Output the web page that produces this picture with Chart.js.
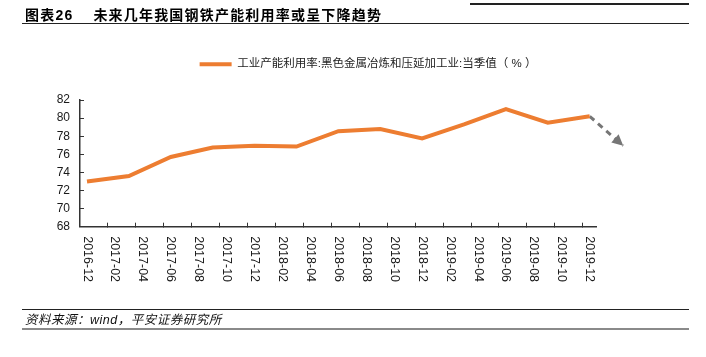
<!DOCTYPE html>
<html>
<head>
<meta charset="utf-8">
<script src="https://cdn.jsdelivr.net/npm/chart.js@4.4.0/dist/chart.umd.min.js"></script>
<style>
html,body{margin:0;padding:0;background:#fff;}
#wrap{position:relative;width:706px;height:357px;overflow:hidden;background:#fff;}
#c{position:absolute;left:0;top:0;}
.title{position:absolute;left:25px;top:7px;font-weight:bold;font-size:14px;line-height:16px;font-family:"Liberation Sans","Noto Sans CJK SC",sans-serif;letter-spacing:1.2px;white-space:nowrap;color:#000;}
.title span{margin-left:20px;}
.foot{position:absolute;left:25px;top:313px;font-style:italic;font-size:12.5px;line-height:14px;font-family:"Liberation Sans","Noto Sans CJK SC",sans-serif;letter-spacing:0.5px;white-space:nowrap;color:#111;}
.ln{position:absolute;}
</style>
</head>
<body>
<div id="wrap">
  <canvas id="c" width="706" height="357"></canvas>
  <div class="ln" style="left:470px;top:3px;width:219px;height:1.5px;background:#222;"></div>
  <div class="title">图表26<span>未来几年我国钢铁产能利用率或呈下降趋势</span></div>
  <div class="ln" style="left:22px;top:22.5px;width:667px;height:1.5px;background:#222;"></div>
  <div class="ln" style="left:22px;top:308.5px;width:667px;height:1.5px;background:#222;"></div>
  <div class="foot">资料来源：wind，平安证券研究所</div>
  <div class="ln" style="left:22px;top:327.5px;width:667px;height:2px;background:#8a8a8a;"></div>
</div>
<script>
// ---- data ----
const seriesName = "工业产能利用率:黑色金属冶炼和压延加工业:当季值（ % ）";
const quarterLabels = ["2016-12","2017-03","2017-06","2017-09","2017-12","2018-03","2018-06","2018-09","2018-12","2019-03","2019-06","2019-09","2019-12"];
const utilization = [73.0, 73.6, 75.7, 76.75, 76.95, 76.85, 78.55, 78.8, 77.75, 79.3, 81.0, 79.5, 80.2];
const tickLabels = ["2016-12","2017-02","2017-04","2017-06","2017-08","2017-10","2017-12","2018-02","2018-04","2018-06","2018-08","2018-10","2018-12","2019-02","2019-04","2019-06","2019-08","2019-10","2019-12"];
const yTicks = [68, 70, 72, 74, 76, 78, 80, 82];
// trend arrow (annotation): from last value, pointing down (second point = arrow tip)
const arrowMonths = [36, 38.4];
const arrowValues = [80.2, 76.95];

const FONT = '"Liberation Sans","Noto Sans CJK SC",sans-serif';
function monthIndex(label){
  const [y, m] = label.split('-').map(Number);
  return (y - 2016) * 12 + m - 12;
}
const lineData = quarterLabels.map((l, i) => ({x: monthIndex(l), y: utilization[i]}));
const arrowData = arrowMonths.map((m, i) => ({x: m, y: arrowValues[i]}));

const xLabelPlugin = {
  id: 'xLabels',
  afterDraw(chart){
    const ctx = chart.ctx, xs = chart.scales.x, area = chart.chartArea;
    ctx.save();
    ctx.font = '12.5px ' + FONT;
    ctx.fillStyle = '#1a1a1a';
    ctx.textAlign = 'left';
    ctx.textBaseline = 'middle';
    tickLabels.forEach(l => {
      const px = xs.getPixelForValue(monthIndex(l));
      ctx.save();
      ctx.translate(px, area.bottom + 9.5);
      ctx.rotate(Math.PI / 2);
      ctx.fillText(l, 0, 0);
      ctx.restore();
    });
    ctx.restore();
  }
};

const arrowHeadPlugin = {
  id: 'arrowHead',
  afterDatasetsDraw(chart){
    const ctx = chart.ctx, xs = chart.scales.x, ys = chart.scales.y;
    const x0 = xs.getPixelForValue(arrowMonths[0]), y0 = ys.getPixelForValue(arrowValues[0]);
    const x1 = xs.getPixelForValue(arrowMonths[1]), y1 = ys.getPixelForValue(arrowValues[1]);
    const a = Math.atan2(y1 - y0, x1 - x0);
    const len = 11, hw = 5.5;
    const bx = x1 - len * Math.cos(a), by = y1 - len * Math.sin(a);
    ctx.save();
    ctx.fillStyle = '#767676';
    ctx.beginPath();
    ctx.moveTo(x1, y1);
    ctx.lineTo(bx + hw * Math.sin(a), by - hw * Math.cos(a));
    ctx.lineTo(bx - hw * Math.sin(a), by + hw * Math.cos(a));
    ctx.closePath();
    ctx.fill();
    ctx.restore();
  }
};

new Chart(document.getElementById('c'), {
  type: 'line',
  data: {
    datasets: [
      {
        label: seriesName,
        data: lineData,
        borderColor: '#ED7D31',
        backgroundColor: '#ED7D31',
        borderWidth: 4,
        pointRadius: 0,
        tension: 0,
        borderJoinStyle: 'miter'
      },
      {
        label: 'trend',
        data: arrowData,
        borderColor: '#767676',
        backgroundColor: '#767676',
        borderWidth: 3,
        borderDash: [6, 5],
        pointRadius: 0,
        clip: false,
        tension: 0
      }
    ]
  },
  options: {
    responsive: false,
    devicePixelRatio: 1,
    animation: false,
    events: [],
    layout: {padding: {left: 30, right: 0, top: 48.5, bottom: 0}},
    plugins: {
      legend: {
        position: 'top',
        labels: {
          usePointStyle: true,
          pointStyle: 'line',
          pointStyleWidth: 32,
          padding: 10,
          color: '#222',
          font: {size: 11.5, family: FONT},
          filter: (item) => item.datasetIndex === 0
        }
      },
      tooltip: {enabled: false}
    },
    scales: {
      x: {
        type: 'linear',
        position: 'bottom',
        min: -0.5,
        max: 36.5,
        afterBuildTicks: (s) => {
          s.ticks = tickLabels.slice(1).map(l => ({value: monthIndex(l) - 0.5}));
        },
        afterFit: (s) => { s.height = 130.3; },
        ticks: {display: false},
        grid: {drawOnChartArea: false, drawTicks: true, tickLength: -4, color: '#333', lineWidth: 1},
        border: {display: true, color: '#333', width: 1.5}
      },
      xTop: {
        type: 'linear',
        position: 'top',
        axis: 'x',
        display: true,
        afterFit: (s) => { s.height = 20; },
        ticks: {display: false},
        grid: {display: false},
        border: {display: false}
      },
      y: {
        type: 'linear',
        position: 'left',
        min: yTicks[0],
        max: yTicks[yTicks.length - 1],
        afterBuildTicks: (s) => { s.ticks = yTicks.map(v => ({value: v})); },
        afterFit: (s) => { s.width = 50; },
        ticks: {color: '#1a1a1a', padding: 14, font: {size: 12, family: FONT}},
        grid: {drawOnChartArea: false, drawTicks: true, tickLength: -4, color: '#333', lineWidth: 1},
        border: {display: true, color: '#333', width: 1.5}
      },
      yRight: {
        type: 'linear',
        position: 'right',
        axis: 'y',
        display: true,
        afterFit: (s) => { s.width = 109.3; },
        ticks: {display: false},
        grid: {display: false},
        border: {display: false}
      }
    }
  },
  plugins: [xLabelPlugin, arrowHeadPlugin]
});
</script>
</body>
</html>
